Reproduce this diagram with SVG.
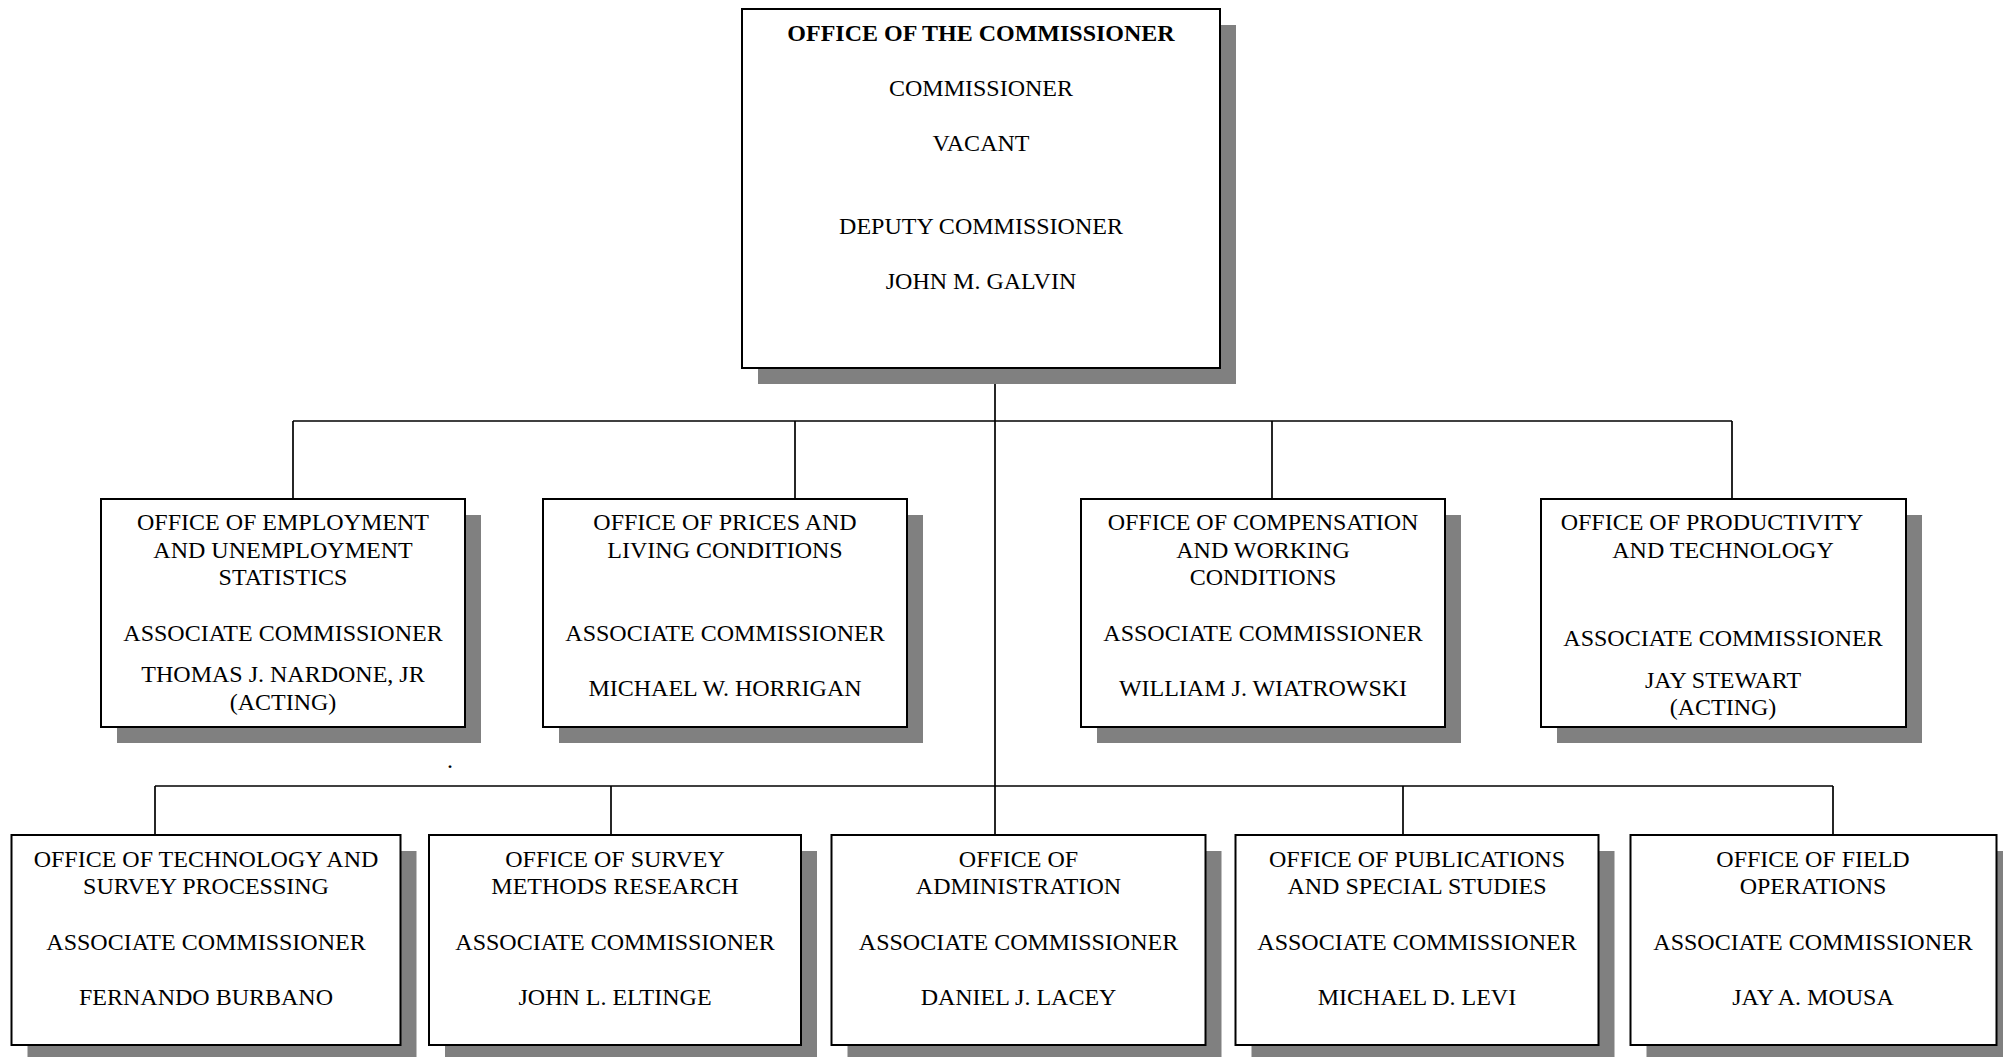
<svg xmlns="http://www.w3.org/2000/svg" width="2003" height="1057" viewBox="0 0 2003 1057">
<style>
.sh{fill:#808080;stroke:none}
.bx{fill:#ffffff;stroke:#000000;stroke-width:2}
.ln{stroke:#000000;stroke-width:1.7;fill:none}
text{font-family:"Liberation Serif","Times New Roman",serif;font-size:24px;fill:#000000;text-anchor:middle}
.b{font-weight:bold}
</style>
<rect width="2003" height="1057" fill="#ffffff"/>
<g id="connectors">
<line class="ln" x1="995" y1="368" x2="995" y2="835"/>
<line class="ln" x1="293" y1="421" x2="1732" y2="421"/>
<line class="ln" x1="293" y1="421" x2="293" y2="499"/>
<line class="ln" x1="795" y1="421" x2="795" y2="499"/>
<line class="ln" x1="1272" y1="421" x2="1272" y2="499"/>
<line class="ln" x1="1732" y1="421" x2="1732" y2="499"/>
<line class="ln" x1="155" y1="786" x2="1833" y2="786"/>
<line class="ln" x1="155" y1="786" x2="155" y2="835"/>
<line class="ln" x1="611" y1="786" x2="611" y2="835"/>
<line class="ln" x1="1403" y1="786" x2="1403" y2="835"/>
<line class="ln" x1="1833" y1="786" x2="1833" y2="835"/>
</g>
<g id="commissioner">
<rect class="sh" x="758" y="25" width="478" height="359"/>
<rect class="bx" x="742" y="9" width="478" height="359"/>
<text class="b" x="981" y="41">OFFICE OF THE COMMISSIONER</text>
<text x="981" y="96">COMMISSIONER</text>
<text x="981" y="151">VACANT</text>
<text x="981" y="234">DEPUTY COMMISSIONER</text>
<text x="981" y="289">JOHN M. GALVIN</text>
</g>
<g id="employment">
<rect class="sh" x="117" y="515" width="364" height="228"/>
<rect class="bx" x="101" y="499" width="364" height="228"/>
<text x="283" y="530">OFFICE OF EMPLOYMENT</text>
<text x="283" y="558">AND UNEMPLOYMENT</text>
<text x="283" y="585">STATISTICS</text>
<text x="283" y="641">ASSOCIATE COMMISSIONER</text>
<text x="283" y="682">THOMAS J. NARDONE, JR</text>
<text x="283" y="710">(ACTING)</text>
</g>
<g id="prices">
<rect class="sh" x="559" y="515" width="364" height="228"/>
<rect class="bx" x="543" y="499" width="364" height="228"/>
<text x="725" y="530">OFFICE OF PRICES AND</text>
<text x="725" y="558">LIVING CONDITIONS</text>
<text x="725" y="641">ASSOCIATE COMMISSIONER</text>
<text x="725" y="696">MICHAEL W. HORRIGAN</text>
</g>
<g id="compensation">
<rect class="sh" x="1097" y="515" width="364" height="228"/>
<rect class="bx" x="1081" y="499" width="364" height="228"/>
<text x="1263" y="530">OFFICE OF COMPENSATION</text>
<text x="1263" y="558">AND WORKING</text>
<text x="1263" y="585">CONDITIONS</text>
<text x="1263" y="641">ASSOCIATE COMMISSIONER</text>
<text x="1263" y="696">WILLIAM J. WIATROWSKI</text>
</g>
<g id="productivity">
<rect class="sh" x="1557" y="515" width="365" height="228"/>
<rect class="bx" x="1541" y="499" width="365" height="228"/>
<text x="1712" y="530">OFFICE OF PRODUCTIVITY</text>
<text x="1723" y="558">AND TECHNOLOGY</text>
<text x="1723" y="646">ASSOCIATE COMMISSIONER</text>
<text x="1723" y="688">JAY STEWART</text>
<text x="1723" y="715">(ACTING)</text>
</g>
<text x="450" y="768">.</text>
<g id="tech-survey">
<rect class="sh" x="27.5" y="851" width="389" height="210"/>
<rect class="bx" x="11.5" y="835" width="389" height="210"/>
<text x="206" y="867">OFFICE OF TECHNOLOGY AND</text>
<text x="206" y="894">SURVEY PROCESSING</text>
<text x="206" y="950">ASSOCIATE COMMISSIONER</text>
<text x="206" y="1005">FERNANDO BURBANO</text>
</g>
<g id="survey-methods">
<rect class="sh" x="445" y="851" width="372" height="210"/>
<rect class="bx" x="429" y="835" width="372" height="210"/>
<text x="615" y="867">OFFICE OF SURVEY</text>
<text x="615" y="894">METHODS RESEARCH</text>
<text x="615" y="950">ASSOCIATE COMMISSIONER</text>
<text x="615" y="1005">JOHN L. ELTINGE</text>
</g>
<g id="administration">
<rect class="sh" x="847.5" y="851" width="374" height="210"/>
<rect class="bx" x="831.5" y="835" width="374" height="210"/>
<text x="1018.5" y="867">OFFICE OF</text>
<text x="1018.5" y="894">ADMINISTRATION</text>
<text x="1018.5" y="950">ASSOCIATE COMMISSIONER</text>
<text x="1018.5" y="1005">DANIEL J. LACEY</text>
</g>
<g id="publications">
<rect class="sh" x="1251.5" y="851" width="363" height="210"/>
<rect class="bx" x="1235.5" y="835" width="363" height="210"/>
<text x="1417" y="867">OFFICE OF PUBLICATIONS</text>
<text x="1417" y="894">AND SPECIAL STUDIES</text>
<text x="1417" y="950">ASSOCIATE COMMISSIONER</text>
<text x="1417" y="1005">MICHAEL D. LEVI</text>
</g>
<g id="field-operations">
<rect class="sh" x="1646.5" y="851" width="366" height="210"/>
<rect class="bx" x="1630.5" y="835" width="366" height="210"/>
<text x="1813" y="867">OFFICE OF FIELD</text>
<text x="1813" y="894">OPERATIONS</text>
<text x="1813" y="950">ASSOCIATE COMMISSIONER</text>
<text x="1813" y="1005">JAY A. MOUSA</text>
</g>
</svg>
